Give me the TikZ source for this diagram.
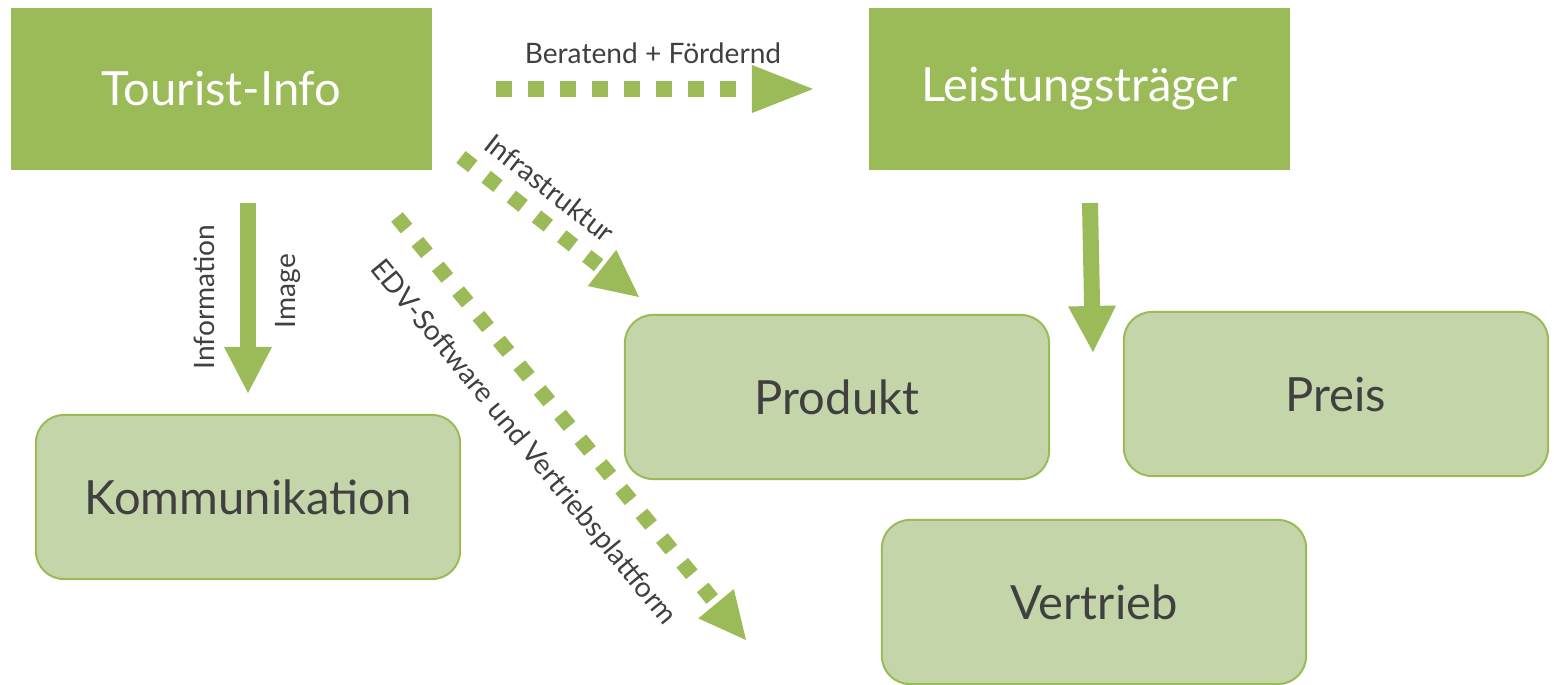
\documentclass[tikz,border=0pt]{standalone}
\usepackage{fontspec}
\setmainfont{Lato}
\usetikzlibrary{arrows.meta, positioning}
\definecolor{leafgreen}{HTML}{9BBB59}
\definecolor{palegreen}{HTML}{C4D6A9}
\definecolor{inkgray}{HTML}{404040}

\begin{document}
\begin{tikzpicture}[x=0.01cm, y=-0.01cm,
  tile/.style={rectangle, fill=leafgreen, text=white, minimum width=4.21cm, minimum height=1.62cm, inner sep=0pt, font=\fontsize{13.4}{16}\selectfont},
  field/.style={rectangle, draw=leafgreen, line width=0.02cm, rounded corners=0.28cm, fill=palegreen, text=inkgray, minimum width=4.24cm, minimum height=1.64cm, inner sep=0pt, font=\fontsize{13.4}{16}\selectfont},
  tag/.style={text=inkgray, inner sep=0pt, font=\fontsize{8}{10}\selectfont},
  flow/.style={draw=leafgreen, line width=0.16cm, -{Triangle[length=0.46cm, width=0.48cm, line width=0pt]}},
  dotflow/.style={draw=leafgreen, line width=0.16cm, dash pattern=on 0.16cm off 0.16cm, -{Triangle[length=0.61cm, width=0.48cm, line width=0pt]}},
  slantflow/.style={draw=leafgreen, line width=0.15cm, dash pattern=on 0.15cm off 0.17cm, -{Triangle[length=0.47cm, width=0.46cm, line width=0pt]}}]
  \useasboundingbox (0,0) rectangle (1554,685);

  % nodes
  \node [tile] (ti) at (221.5,89) {Tourist-Info};
  \node [tile][right = 4.35cm of ti] (lt) {Leistungsträger};
  \node [field] (komm) at (248,497) {Kommunikation};
  \node [field] (prod) at (837,397) {Produkt};
  \node [field] (preis) at (1336,394) {Preis};
  \node [field] (vert) at (1094,602) {Vertrieb};

  % arrow ends
  \coordinate (info-a) at (248,203);
  \coordinate (info-b) at (248,393);
  \coordinate (berat-a) at (496,89);
  \coordinate (berat-b) at (813,89);
  \coordinate (infra-a) at (461,157);
  \coordinate (infra-b) at (639,297);
  \coordinate (edv-a) at (397,217);
  \coordinate (edv-b) at (746,640);
  \coordinate (leist-a) at (1090,203);
  \coordinate (leist-b) at (1093,352);

  % edges
  \draw [flow] (info-a) -- (info-b);
  \draw [flow] (leist-a) -- (leist-b);
  \draw [dotflow] (berat-a) -- (berat-b);
  \draw [slantflow] (infra-a) -- (infra-b);
  \draw [slantflow] (edv-a) -- (edv-b);

  % labels
  \node [tag] (berat) at (653,53) {Beratend + Fördernd};
  \node [tag, rotate=90] (info) at (204,297) {Information};
  \node [tag, rotate=90] (image) at (288,291) {Image};
  \node [tag, rotate=-38] (infra) at (550,188) {Infrastruktur};
  \node [tag, rotate=-50.5] (edv) at (523,443) {EDV-Software und Vertriebsplattform};
\end{tikzpicture}
\end{document}
